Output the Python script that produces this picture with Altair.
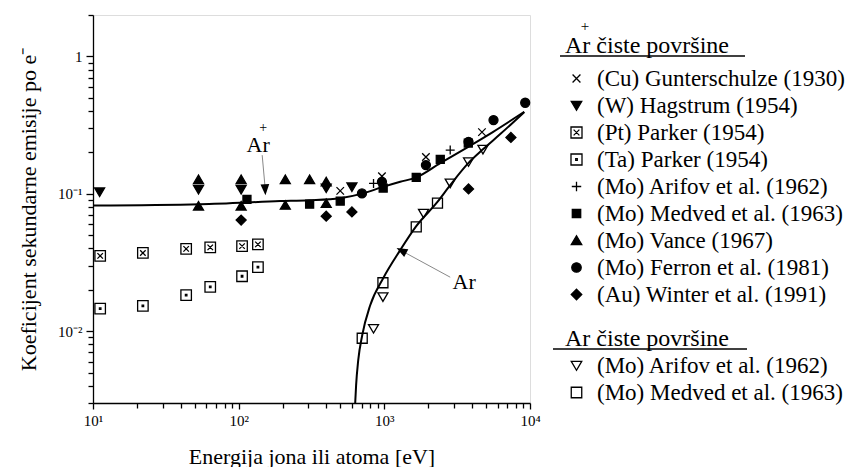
import altair as alt
import pandas as pd

# ---------------- data ----------------
# Ar+ on clean surfaces
GUNT_X = [498, 963, 1930, 4680]
GUNT_Y = [0.105, 0.134, 0.185, 0.281]
HAG_X = [11.1, 53, 104, 399, 599]
HAG_Y = [0.103, 0.1075, 0.1075, 0.110, 0.112]
PT_X = [11.2, 22.0, 43.6, 63.8, 105.5, 135.6]
PT_Y = [0.0353, 0.0371, 0.0397, 0.0407, 0.0416, 0.0428]
TA_X = [11.2, 22.0, 43.6, 63.8, 105.5, 135.6]
TA_Y = [0.0146, 0.0153, 0.0183, 0.0210, 0.0251, 0.0292]
ARIF_X = [843, 2833]
ARIF_Y = [0.119, 0.208]
MED_X = [114, 307, 498, 982, 1656, 2421, 3770]
MED_Y = [0.091, 0.084, 0.0884, 0.110, 0.1315, 0.178, 0.234]
VANCE_X = [53, 53, 104, 104, 209, 209, 307, 399, 399]
VANCE_Y = [0.127, 0.0813, 0.127, 0.0813, 0.127, 0.0826, 0.127, 0.122, 0.085]
FERRON_X = [702, 963, 1930, 3785, 5617, 9270]
FERRON_Y = [0.1006, 0.1222, 0.1616, 0.2388, 0.3437, 0.4596]
WINTER_X = [104, 399, 599, 3785, 7396]
WINTER_Y = [0.0643, 0.0687, 0.0738, 0.1084, 0.2572]

# Ar on clean surfaces
AR_ARIF_X = [843, 978, 1858, 2833, 3785, 4753]
AR_ARIF_Y = [0.01045, 0.01774, 0.0719, 0.1195, 0.1708, 0.2103]
AR_MED_X = [705, 978, 1656, 2317]
AR_MED_Y = [0.00888, 0.0225, 0.0574, 0.0855]

# fitted curves
FIT_ARP_X = [10.05, 54.5, 193, 305, 498, 705, 966, 1286, 1656, 2421, 3770, 5590, 9130]
FIT_ARP_Y = [0.0822, 0.0840, 0.0884, 0.0898, 0.0929, 0.1002, 0.1117, 0.1222, 0.1315, 0.1671, 0.2197, 0.2825, 0.395]
FIT_AR_X = [631, 640, 662, 705, 800, 982, 1286, 1656, 2307, 2833, 3770, 4776, 6250, 9130]
FIT_AR_Y = [0.0030, 0.00403, 0.00615, 0.00934, 0.01545, 0.0243, 0.0389, 0.0581, 0.0869, 0.1156, 0.167, 0.2114, 0.2718, 0.393]

ARP_NAMES = ["(Cu) Gunterschulze (1930)", "(W) Hagstrum (1954)", "(Pt) Parker (1954)",
             "(Ta) Parker (1954)", "(Mo) Arifov et al. (1962)", "(Mo) Medved et al. (1963)",
             "(Mo) Vance (1967)", "(Mo) Ferron et al. (1981)", "(Au) Winter et al. (1991)"]
AR_NAMES = ["(Mo) Arifov et al. (1962)", "(Mo) Medved et al. (1963)"]

X_TICKS = [m * 10 ** e for e in (1, 2, 3) for m in range(1, 10)] + [10000]
Y_TICKS = [m * 10.0 ** e for e in (-3, -2, -1) for m in range(1, 10)] + [1, 2]
Y_TICKS = [v for v in Y_TICKS if v >= 0.003]

# ---------------- tables ----------------
arp_sets = [GUNT_X, HAG_X, PT_X, TA_X, ARIF_X, MED_X, VANCE_X, FERRON_X, WINTER_X]
arp_ys = [GUNT_Y, HAG_Y, PT_Y, TA_Y, ARIF_Y, MED_Y, VANCE_Y, FERRON_Y, WINTER_Y]
rows = []
for name, xs, ys in zip(ARP_NAMES, arp_sets, arp_ys):
    rows += [{"series": name, "E": x, "g": y} for x, y in zip(xs, ys)]
df_arp = pd.DataFrame(rows)

rows = []
for name, xs, ys in zip(AR_NAMES, [AR_ARIF_X, AR_MED_X], [AR_ARIF_Y, AR_MED_Y]):
    rows += [{"series": name, "E": x, "g": y} for x, y in zip(xs, ys)]
df_ar = pd.DataFrame(rows)

df_fit = pd.DataFrame(
    [{"curve": "Ar+", "E": x, "g": y} for x, y in zip(FIT_ARP_X, FIT_ARP_Y)]
    + [{"curve": "Ar", "E": x, "g": y} for x, y in zip(FIT_AR_X, FIT_AR_Y)]
)

# marker shapes
SQ = "M-1,-1H1V1H-1Z"
ARP_SHAPES = [
    "M-0.75,-0.75L0.75,0.75M-0.75,0.75L0.75,-0.75",              # x
    "M-1,-0.8L1,-0.8L0,0.9Z",                                    # filled down triangle
    "M-1.05,-1.05H1.05V1.05H-1.05Z M-0.55,-0.55L0.55,0.55 M-0.55,0.55L0.55,-0.55",  # boxed x
    "M-1.05,-1.05H1.05V1.05H-1.05Z M-0.15,-0.15H0.15V0.15H-0.15Z",  # boxed dot
    "M-0.9,0H0.9M0,-0.9V0.9",                                   # plus
    "M-0.8,-0.8H0.8V0.8H-0.8Z",                                 # filled square
    "M-1,0.8L1,0.8L0,-0.9Z",                                    # filled triangle up
    "M-0.9,0A0.9,0.9 0 1,0 0.9,0A0.9,0.9 0 1,0 -0.9,0Z",         # circle
    "M0,-1L1,0L0,1L-1,0Z",                                      # diamond
]
ARP_FILLS = ["transparent", "black", "white", "white", "transparent",
             "black", "black", "black", "black"]
AR_SHAPES = ["M-1,-0.8L1,-0.8L0,0.9Z", SQ]

FONT = "Liberation Serif"

x_scale = alt.Scale(type="log", domain=[10, 10000], nice=False)
y_scale = alt.Scale(type="log", domain=[0.003, 2], nice=False)

x_axis = alt.Axis(
    values=X_TICKS, grid=False, domain=True, domainColor="black", domainWidth=1.3,
    tickColor="black", tickWidth=1.3,
    tickSize={"condition": {"test": "indexof([10,100,1000,10000], datum.value) >= 0", "value": 6}, "value": 5},
    labelExpr="datum.value == 10 ? '10¹' : datum.value == 100 ? '10²' : datum.value == 1000 ? '10³' : datum.value == 10000 ? '10⁴' : ''",
    labelFont=FONT, labelFontSize=15, labelColor="black", labelPadding=4, labelOverlap=False,
    labelFlush=False,
    title="Energija jona ili atoma [eV]", titleFont=FONT, titleFontSize=22,
    titleFontWeight="normal", titleColor="black", titlePadding=18,
)
y_axis = alt.Axis(
    values=Y_TICKS, grid=False, domain=True, domainColor="black", domainWidth=1.3,
    tickColor="black", tickWidth=1.3,
    tickSize={"condition": {"test": "abs(datum.value-1)<1e-9 || abs(datum.value-0.1)<1e-9 || abs(datum.value-0.01)<1e-9", "value": 7}, "value": 5},
    labelExpr="abs(datum.value-1)<1e-9 ? '1' : abs(datum.value-0.1)<1e-9 ? '10⁻¹' : abs(datum.value-0.01)<1e-9 ? '10⁻²' : ''",
    labelFont=FONT, labelFontSize=15, labelColor="black", labelPadding=4, labelOverlap=False,
    labelFlush=False,
    title="Koeficijent sekundarne emisije po e⁻", titleFont=FONT, titleFontSize=22,
    titleFontWeight="normal", titleColor="black", titlePadding=17,
)

base_x = alt.X("E:Q", scale=x_scale, axis=x_axis)
base_y = alt.Y("g:Q", scale=y_scale, axis=y_axis)

fit = alt.Chart(df_fit).mark_line(color="black", strokeWidth=2, interpolate="monotone", clip=True).encode(
    x=base_x, y=base_y, detail="curve:N"
)

leg_common = dict(
    orient="none", labelFont=FONT, labelFontSize=23, labelColor="black",
    titleFont=FONT, titleFontSize=24, titleFontWeight="normal", titleColor="black",
    symbolSize=110, symbolStrokeWidth=1.3, rowPadding=3, labelOffset=9,
    padding=0, titleLimit=400, labelLimit=400,
)

leg1 = alt.Legend(title="Ar   čiste površine", legendX=472, legendY=19, titlePadding=9, **leg_common)
leg2 = alt.Legend(title="Ar  čiste površine", legendX=472, legendY=312, titlePadding=3, **leg_common)

pts_arp = alt.Chart(df_arp).mark_point(strokeWidth=1.3, size=100, opacity=1).encode(
    x=alt.X("E:Q", scale=x_scale, axis=x_axis),
    y=alt.Y("g:Q", scale=y_scale, axis=y_axis),
    shape=alt.Shape("series:N", scale=alt.Scale(domain=ARP_NAMES, range=ARP_SHAPES), legend=leg1),
    fill=alt.Fill("series:N", scale=alt.Scale(domain=ARP_NAMES, range=ARP_FILLS), legend=leg1),
    stroke=alt.Stroke("series:N", scale=alt.Scale(domain=ARP_NAMES, range=["black"] * 9), legend=leg1),
)

pts_ar = alt.Chart(df_ar).mark_point(strokeWidth=1.3, size=100, opacity=1).encode(
    x=alt.X("E:Q", scale=x_scale, axis=x_axis),
    y=alt.Y("g:Q", scale=y_scale, axis=y_axis),
    shape=alt.Shape("series:N", scale=alt.Scale(domain=AR_NAMES, range=AR_SHAPES), legend=leg2),
    fill=alt.Fill("series:N", scale=alt.Scale(domain=AR_NAMES, range=["transparent"] * 2), legend=leg2),
    stroke=alt.Stroke("series:N", scale=alt.Scale(domain=AR_NAMES, range=["black"] * 2), legend=leg2),
)

# annotations
ann_text = pd.DataFrame([
    {"E": 136, "g": 0.226, "t": "Ar"},
    {"E": 3532, "g": 0.0227, "t": "Ar"},
])
plus_text = pd.DataFrame([{"E": 136, "g": 0.226, "t": "+"}])
arrows = pd.DataFrame([
    {"E": 145, "g": 0.191, "E2": 152, "g2": 0.11},
    {"E": 2833, "g": 0.0247, "E2": 1348, "g2": 0.0379},
])
heads = pd.DataFrame([
    {"E": 152, "g": 0.107, "a": 177},
    {"E": 1310, "g": 0.0386, "a": 298},
])

txt = alt.Chart(ann_text).mark_text(font=FONT, fontSize=22, color="black").encode(
    x=alt.X("E:Q", scale=x_scale), y=alt.Y("g:Q", scale=y_scale), text="t:N")
plus = alt.Chart(plus_text).mark_text(font=FONT, fontSize=14, color="black", dx=5, dy=-17).encode(
    x=alt.X("E:Q", scale=x_scale), y=alt.Y("g:Q", scale=y_scale), text="t:N")
arr = alt.Chart(arrows).mark_rule(color="#888888", strokeWidth=1).encode(
    x=alt.X("E:Q", scale=x_scale), y=alt.Y("g:Q", scale=y_scale),
    x2="E2:Q", y2="g2:Q")
head = alt.Chart(heads).mark_point(shape="M-0.8,1L0.8,1L0,-1Z", filled=True, color="black", size=120, opacity=1).encode(
    x=alt.X("E:Q", scale=x_scale), y=alt.Y("g:Q", scale=y_scale), angle=alt.Angle("a:Q", scale=None))

# legend header decorations (underlines and the "+" of Ar+)
ul1 = alt.Chart(pd.DataFrame({"k": [0]})).mark_rule(color="black", strokeWidth=1.5).encode(
    x=alt.value(467), x2=alt.value(652), y=alt.value(41))
ul2 = alt.Chart(pd.DataFrame({"k": [0]})).mark_rule(color="black", strokeWidth=1.5).encode(
    x=alt.value(460), x2=alt.value(654), y=alt.value(334))
plus_leg = alt.Chart(pd.DataFrame({"t": ["+"]})).mark_text(font=FONT, fontSize=15, color="black").encode(
    x=alt.value(492), y=alt.value(11), text="t:N")

chart = alt.layer(fit, arr, head, txt, plus, pts_arp, pts_ar, ul1, ul2, plus_leg).resolve_scale(
    shape="independent", fill="independent", stroke="independent"
).properties(
    width=437, height=388,
    autosize=alt.AutoSizeParams(type="none"),
    padding={"left": 85, "top": 7, "right": 319, "bottom": 64},
).configure_view(stroke=None).configure(background="white")

chart.save("out.html", embed_options={"renderer": "svg", "actions": False})
